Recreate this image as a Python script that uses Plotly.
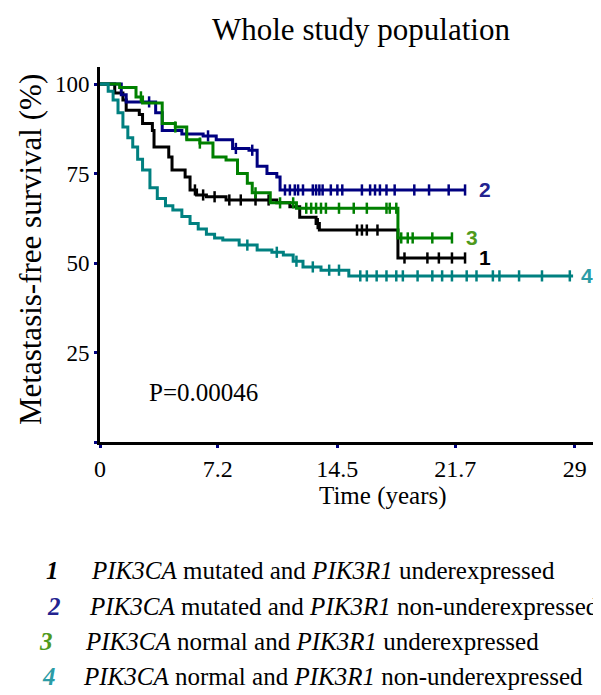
import plotly.graph_objects as go

# ---------------- data ----------------
# 1: PIK3CA mutated / PIK3R1 underexpressed (black)
t1 = [0, 0.9, 1.4, 1.6, 2.4, 2.6, 3.2, 3.3, 4.2, 4.4, 5.2, 5.5, 5.9, 6.5, 7.7, 10.8, 11.6, 12.2, 13.2, 13.4, 18.2, 22.3]
s1 = [100, 97.5, 95.5, 92.7, 91.5, 89, 87, 82.4, 79.6, 76, 74, 70.4, 69, 68.5, 67.6, 66.8, 65.7, 62.8, 61, 59.2, 51.4, 51.4]
c1 = [5.8, 6.3, 7.0, 7.9, 8.6, 9.5, 10.3, 13.3, 15.7, 16.0, 16.3, 16.95, 18.6, 20.0, 20.7, 21.5, 22.3]

# 2: PIK3CA mutated / PIK3R1 non-underexpressed (navy)
t2 = [0, 1.3, 1.6, 3.4, 3.8, 5.0, 6.3, 7.1, 8.1, 9.1, 9.6, 10.2, 10.8, 11.0, 22.3]
s2 = [100, 97, 95, 92, 87, 86, 85.5, 84.4, 82, 81.5, 77, 75, 74, 70.4, 70.4]
c2 = [3.0, 5.3, 6.6, 8.3, 9.3, 11.3, 11.6, 11.9, 12.1, 12.4, 13.0, 13.2, 13.4, 13.6, 14.1, 14.5, 14.8,
      16.0, 16.5, 16.8, 17.1, 17.5, 18.0, 19.2, 20.1, 21.3, 22.3]

# 3: PIK3CA normal / PIK3R1 underexpressed (green)
t3 = [0, 1.2, 2.2, 2.6, 3.8, 4.6, 5.3, 6.1, 6.9, 7.7, 8.4, 9.0, 9.3, 10.4, 12.0, 18.2, 21.5]
s3 = [100, 99, 96.4, 94.7, 89, 88, 84.4, 83.5, 79.6, 78.8, 75, 72.3, 69.6, 66.8, 65.3, 57, 57]
c3 = [2.5, 4.6, 6.1, 9.5, 11.0, 11.8, 12.6, 12.9, 13.2, 13.5, 13.8, 14.6, 15.5, 16.3, 17.5, 17.7, 18.1,
      18.4, 18.8, 19.1, 20.3, 21.5]

# 4: PIK3CA normal / PIK3R1 non-underexpressed (teal)
t4 = [0, 0.5, 0.8, 1.1, 1.4, 1.7, 2.0, 2.3, 2.6, 3.05, 3.5, 4.0, 4.45, 5.0, 5.5, 6.0, 6.5, 7.0, 7.5,
      8.5, 9.6, 10.5, 11.2, 11.8, 12.4, 13.5, 15.2, 28.9]
s4 = [100, 98, 95.5, 92, 88, 85, 82.4, 79, 76, 71, 68, 66, 64.8, 63, 61, 59.5, 58, 57, 56.4,
      55, 53.6, 53, 52.2, 50.5, 48.9, 48, 46.4, 46.4]
c4 = [9.0, 10.8, 12.0, 13.0, 14.0, 14.6, 15.9, 16.3, 16.9, 17.5, 18.1, 18.5, 19.4, 20.3, 20.9, 21.5,
      22.4, 23.0, 24.0, 24.4, 25.6, 27.0, 28.7]

series_names = ["1", "2", "3", "4"]
line_colors = ["#000000", "#000080", "#008000", "#008080"]
label_colors = ["#000000", "#23238f", "#4f9a1c", "#2b9ca6"]
legend_texts = [
    "<i>PIK3CA</i> mutated and <i>PIK3R1</i> underexpressed",
    "<i>PIK3CA</i> mutated and <i>PIK3R1</i> non-underexpressed",
    "<i>PIK3CA</i> normal and <i>PIK3R1</i> underexpressed",
    "<i>PIK3CA</i> normal and <i>PIK3R1</i> non-underexpressed",
]
x_ticks = [0, 7.2, 14.5, 21.7, 29]
y_ticks = [0, 25, 50, 75, 100]
y_ticklabels = ["", "25", "50", "75", "100"]
p_value = "P=0.00046"


def value_at(ts, ss, x):
    v = ss[0]
    for t, s in zip(ts, ss):
        if t <= x:
            v = s
    return v


# ---------------- figure ----------------
OFF = 8  # page body margin in the browser
W, H = 601 - OFF, 695 - OFF
L, R, T, B = 100 - OFF, 0, 67 - OFF, 695 - 442
PX_PER_YEAR = 16.37
PX_PER_PCT = 3.58
xmax = (W - L - R) / PX_PER_YEAR
ymax = (H - T - B) / PX_PER_PCT


def px(xp):
    return (xp - OFF - L) / (W - L - R)


def py(yp):
    return (H - B - (yp - OFF)) / (H - T - B)


fig = go.Figure()
all_t = [t1, t2, t3, t4]
all_s = [s1, s2, s3, s4]
all_c = [c1, c2, c3, c4]
for ts, ss, cs, col in zip(all_t, all_s, all_c, line_colors):
    fig.add_trace(go.Scatter(x=ts, y=ss, mode="lines", line=dict(color=col, width=3, shape="hv"),
                             showlegend=False, hoverinfo="skip", cliponaxis=False))
    fig.add_trace(go.Scatter(x=cs, y=[value_at(ts, ss, c) for c in cs], mode="markers",
                             marker=dict(symbol="line-ns-open", size=8, color=col,
                                         line=dict(color=col, width=2.5)),
                             showlegend=False, hoverinfo="skip", cliponaxis=False))

serif = "Liberation Serif, Times New Roman, serif"
ann = []
# end-of-curve labels
end_offsets = [1.2, 1.2, 1.2, 0.85]
for name, ts, ss, col, off in zip(series_names, all_t, all_s, label_colors, end_offsets):
    ann.append(dict(x=ts[-1] + off, y=ss[-1], xref="x", yref="y", text="<b>" + name + "</b>",
                    showarrow=False, xanchor="center", yanchor="middle",
                    font=dict(family="Liberation Sans, Arial, sans-serif", size=21, color=col)))

# title
ann.append(dict(x=px(361), y=py(30), xref="paper", yref="paper", text="Whole study population",
                showarrow=False, xanchor="center", yanchor="middle",
                font=dict(family=serif, size=31, color="black")))
# y title
ann.append(dict(x=px(30), y=py(250), xref="paper", yref="paper", text="Metastasis-free survival (%)",
                showarrow=False, xanchor="center", yanchor="middle", textangle=-90,
                font=dict(family=serif, size=31, color="black")))
# x title
ann.append(dict(x=px(383), y=py(496), xref="paper", yref="paper", text="Time (years)",
                showarrow=False, xanchor="center", yanchor="middle",
                font=dict(family=serif, size=25, color="black")))
# p value
ann.append(dict(x=px(147), y=py(392), xref="paper", yref="paper", text=p_value,
                showarrow=False, xanchor="left", yanchor="middle",
                font=dict(family=serif, size=25, color="black")))

# legend rows
row_y = [570, 606, 641, 676]
num_x = [52, 54, 46, 49]
txt_x = [89, 87, 83, 81]
for name, txt, col, yy, nx, tx in zip(series_names, legend_texts, label_colors, row_y, num_x, txt_x):
    ann.append(dict(x=px(nx), y=py(yy), xref="paper", yref="paper", text="<b><i>" + name + "</i></b>",
                    showarrow=False, xanchor="center", yanchor="middle",
                    font=dict(family=serif, size=25, color=col)))
    ann.append(dict(x=px(tx), y=py(yy), xref="paper", yref="paper", text=txt,
                    showarrow=False, xanchor="left", yanchor="middle",
                    font=dict(family=serif, size=25, color="black")))

fig.update_layout(
    width=W, height=H,
    margin=dict(l=L, r=R, t=T, b=B, pad=0),
    paper_bgcolor="white", plot_bgcolor="white",
    showlegend=False,
    annotations=ann,
    xaxis=dict(range=[0, xmax], tickvals=x_ticks, ticktext=[str(v) for v in x_ticks],
               showgrid=False, zeroline=False, showline=True, linecolor="black", linewidth=3,
               ticks="outside", ticklen=3, tickwidth=3, tickcolor="#000080",
               tickfont=dict(family=serif, size=24, color="black"), fixedrange=True),
    yaxis=dict(range=[0, ymax], tickvals=y_ticks, ticktext=y_ticklabels,
               showgrid=False, zeroline=False, showline=True, linecolor="black", linewidth=3,
               ticks="outside", ticklen=3, tickwidth=3, tickcolor="#000080",
               tickfont=dict(family=serif, size=23, color="black"), fixedrange=True),
)

fig.write_html("out.html")
